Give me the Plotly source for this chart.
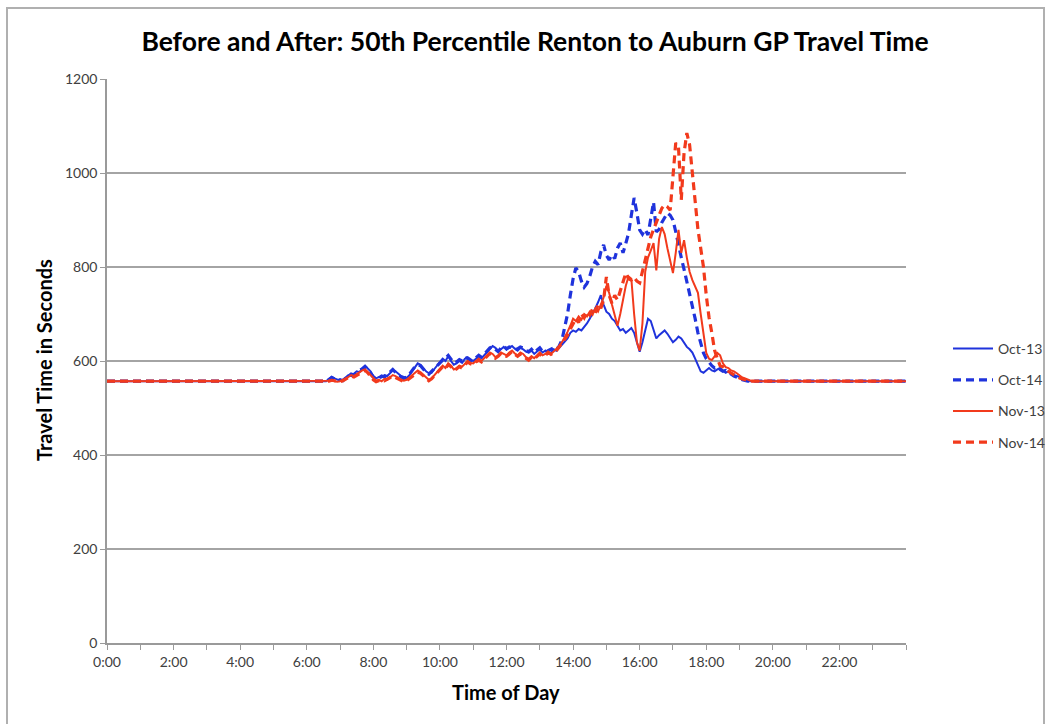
import plotly.graph_objects as go

# ---------------- data ----------------
BASELINE = 557
START_H = 6.5           # first detailed sample 6:30
STEP_MIN = 5            # 5-minute samples through 19:30

TICK_HOURS = [0, 2, 4, 6, 8, 10, 12, 14, 16, 18, 20, 22]
TICK_LABELS = ["0:00", "2:00", "4:00", "6:00", "8:00", "10:00",
               "12:00", "14:00", "16:00", "18:00", "20:00", "22:00"]

oct13 = [
    557, 557, 562, 566, 563, 560,
    558, 560, 565, 570, 568, 574, 578, 576, 585, 590, 584, 578,
    568, 563, 566, 565, 570, 568, 574, 580, 578, 572, 568, 566,
    564, 570, 578, 585, 595, 592, 585, 578, 574, 575, 583, 590,
    598, 605, 600, 610, 600, 592, 595, 600, 596, 605, 608, 603,
    600, 605, 610, 606, 612, 618, 625, 632, 628, 622, 625, 630,
    624, 628, 632, 626, 622, 628, 625, 620, 618, 622, 615, 620,
    625, 618, 622, 615, 618, 625, 622, 628, 635, 640, 648, 660,
    665, 662, 668, 665, 672, 680, 690, 700, 712, 725, 740, 720,
    705, 700, 690, 685, 675, 665, 668, 660, 665, 670, 660, 640,
    620, 640, 665, 690, 685, 665, 648, 655, 660, 665, 658, 650,
    640, 645, 652, 648, 640, 630, 625, 618, 605, 590, 578, 575,
    580, 585, 580, 578, 582, 585, 580, 575, 578, 572, 570, 568,
    566, 562, 560, 558, 557, 557, 557,
]

oct14 = [
    557, 557, 560, 565, 562, 558,
    560, 558, 563, 568, 572, 570, 576, 580, 583, 588, 582, 575,
    566, 562, 564, 568, 566, 571, 576, 582, 576, 570, 566, 563,
    566, 572, 580, 588, 592, 590, 583, 576, 572, 578, 585, 592,
    596, 602, 606, 612, 604, 596, 598, 603, 600, 608, 605, 600,
    602, 608, 612, 608, 615, 620, 628, 630, 625, 620, 628, 632,
    626, 630, 628, 624, 626, 630, 628, 622, 620, 625, 618, 622,
    628, 620, 618, 622, 625, 628, 625, 632, 645, 670, 700, 740,
    775, 798, 790, 770, 757, 765, 780, 800, 812, 805, 832, 847,
    825, 815, 826, 818, 840, 851, 830, 850, 872, 910, 947, 915,
    879, 870, 880, 868, 900, 938, 875, 880, 895, 905, 915, 910,
    900, 875, 845, 820, 795, 770, 740, 715, 690, 660, 635, 617,
    605, 596, 590, 585, 588, 582, 578, 580, 575, 572, 568, 566,
    563, 560, 558, 557, 557, 557, 557,
]

nov13 = [
    557, 557, 558, 560, 557, 556,
    557, 560, 562, 566, 570, 568, 572, 575, 580, 582, 576, 570,
    562, 558, 560, 557, 562, 560, 565, 570, 568, 564, 560, 558,
    560, 565, 570, 575, 580, 576, 570, 566, 560, 563, 570, 578,
    585, 590, 585, 595, 590, 582, 585, 590, 588, 595, 600, 596,
    595, 600, 605, 600, 606, 612, 618, 615, 608, 612, 618, 615,
    612, 618, 622, 616, 612, 618, 615, 608, 605, 610, 606, 612,
    618, 612, 615, 620, 615, 620, 625, 632, 640, 650, 662, 675,
    690, 685, 695, 688, 700, 695, 705, 698, 712, 705, 720, 735,
    760, 745, 720, 700, 675, 700, 730, 760, 780, 775, 700, 640,
    622, 680, 790, 820, 835, 851, 793, 860, 885, 870, 840, 810,
    787, 830, 879, 830, 857, 820, 790, 772, 760, 745, 700, 660,
    617, 605, 602, 610, 617, 612, 595, 587, 585, 580, 578, 574,
    570, 565, 563, 560, 558, 557, 557,
]

nov14 = [
    557, 557, 557, 559, 558, 557,
    556, 558, 561, 564, 568, 566, 570, 574, 578, 580, 575, 568,
    560, 556, 558, 560, 558, 562, 566, 568, 565, 562, 558, 556,
    558, 562, 568, 572, 576, 574, 568, 562, 558, 562, 568, 575,
    582, 588, 584, 592, 588, 580, 583, 588, 585, 592, 598, 594,
    592, 598, 602, 598, 604, 610, 616, 612, 606, 610, 616, 612,
    610, 615, 620, 614, 610, 615, 612, 606, 602, 608, 604, 610,
    615, 610, 612, 618, 614, 618, 622, 630, 638, 648, 655, 668,
    680, 690, 682, 700, 692, 705, 698, 710, 702, 720, 712, 730,
    779, 740, 723, 740, 730, 750, 770, 787, 775, 772, 778, 770,
    766, 790, 815, 840, 864, 880, 895, 910, 925, 932, 928, 921,
    990, 1064, 1055, 943, 1043, 1085, 1060, 1000, 930, 880, 840, 800,
    740, 693, 660, 623, 605, 590, 588, 582, 578, 574, 570, 567,
    564, 562, 560, 558, 557, 557, 557,
]

series = [
    ("Oct-13", oct13, "#1f33dc", "solid", 2),
    ("Oct-14", oct14, "#1f33dc", "8px,5px", 3.2),
    ("Nov-13", nov13, "#f23a1c", "solid", 2),
    ("Nov-14", nov14, "#f23a1c", "8px,5px", 3.2),
]

FONT = "Lato, 'Open Sans', sans-serif"

fig = go.Figure()
for i, (name, vals, color, dash, width) in enumerate(series):
    xs = [0.0] + [START_H + k * STEP_MIN / 60 for k in range(len(vals))] + [24.0]
    ys = [BASELINE] + vals + [BASELINE]
    fig.add_trace(go.Scatter(
        x=xs, y=ys, mode="lines", name=name, legendgroup=name,
        line=dict(color=color, dash=dash, width=width),
    ))

# plot-area pixel geometry
L, R, T, B = 107, 146, 79, 81
W, H = 1052, 724
pw, ph = W - L - R, H - T - B

def px_x(p):
    return (p - L) / pw

def px_y(p):
    return (H - B - p) / ph

fig.update_layout(
    width=W, height=H,
    margin=dict(l=L, r=R, t=T, b=B, autoexpand=False),
    paper_bgcolor="white", plot_bgcolor="white",
    font=dict(family=FONT, size=14, color="#404040"),
    title=dict(
        text="<b>Before and After: 50th Percentile Renton to Auburn GP Travel Time</b>",
        x=535 / W, xanchor="center", y=1 - 42 / H, yanchor="middle",
        font=dict(family=FONT, size=26.5, color="#000000"),
    ),
    xaxis=dict(
        range=[0, 24], tickvals=TICK_HOURS, ticktext=TICK_LABELS,
        showgrid=False, zeroline=False,
        showline=True, linecolor="#9a9a9a", linewidth=1.5,
        ticks="outside", ticklen=5, tickcolor="#9a9a9a",
        minor=dict(dtick=1, tick0=0, ticks="outside", ticklen=5, tickcolor="#9a9a9a"),
        tickfont=dict(size=14, color="#404040"),
    ),
    yaxis=dict(
        range=[0, 1200], dtick=200,
        showgrid=True, gridcolor="#a4a4a4", gridwidth=1.6,
        zeroline=False,
        showline=True, linecolor="#9a9a9a", linewidth=1.5,
        ticks="outside", ticklen=5, tickcolor="#9a9a9a",
        tickfont=dict(size=14, color="#404040"),
    ),
    legend=dict(
        x=px_x(948), y=px_y(333), xanchor="left", yanchor="top",
        font=dict(size=14, color="#404040"),
        bgcolor="rgba(0,0,0,0)", tracegroupgap=10, itemwidth=40,
    ),
    showlegend=True,
)

fig.add_annotation(
    text="<b>Travel Time in Seconds</b>", textangle=-90,
    xref="paper", yref="paper", x=px_x(44), y=px_y(360),
    xanchor="center", yanchor="middle", showarrow=False,
    font=dict(family=FONT, size=20, color="#000000"),
)
fig.add_annotation(
    text="<b>Time of Day</b>",
    xref="paper", yref="paper", x=px_x(506), y=px_y(692),
    xanchor="center", yanchor="middle", showarrow=False,
    font=dict(family=FONT, size=20, color="#000000"),
)

# chart-area border
fig.add_shape(
    type="rect", xref="paper", yref="paper",
    x0=px_x(7), x1=px_x(1044), y0=px_y(745), y1=px_y(8),
    line=dict(color="#b0b0b0", width=2), fillcolor="rgba(0,0,0,0)", layer="below",
)

fig.write_html(
    "out.html",
    config={"displayModeBar": False},
    post_script="document.body.style.margin='0';document.body.style.overflow='hidden';",
)
